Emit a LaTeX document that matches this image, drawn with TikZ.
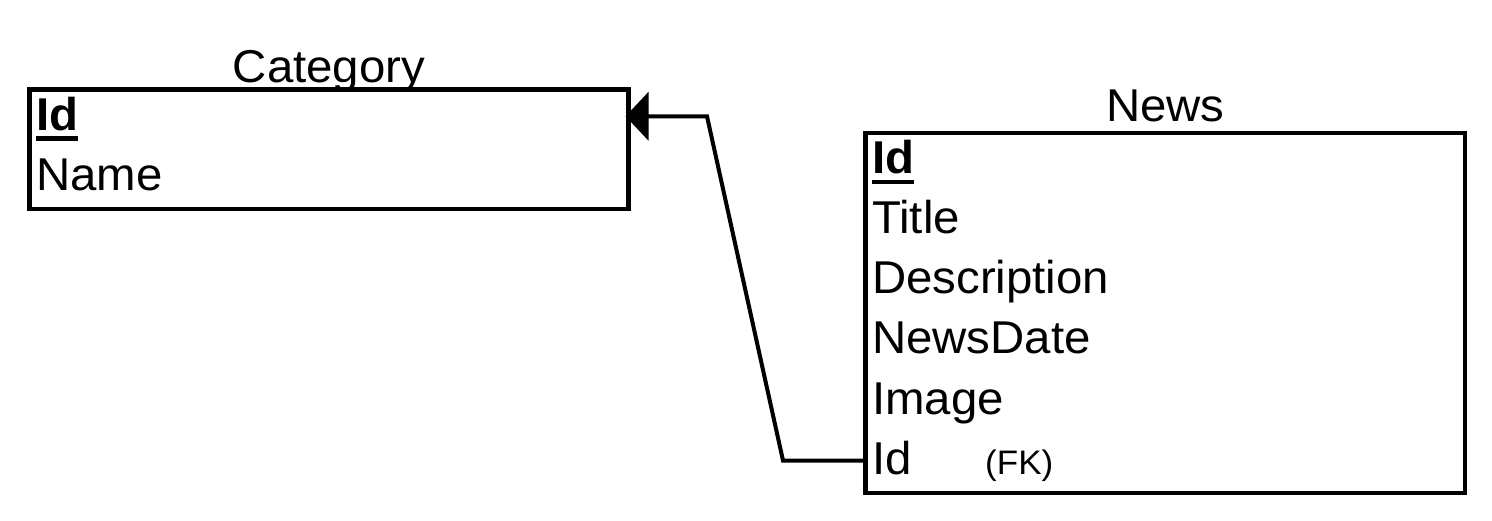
\documentclass[tikz,border=0pt]{standalone}
\usepackage{fontspec}
\setmainfont{Liberation Sans}[FakeStretch=1.03]
\usetikzlibrary{positioning,arrows.meta}
\tikzset{
entity/.style = {rectangle, draw, line width=4.5pt, inner sep=0pt, outer sep=0pt, minimum width=#1},
entity/.default = 599pt, % width of a table box
title/.style = {inner sep=0pt, font=\fontsize{46}{54}\selectfont},
field/.style = {inner sep=0pt, anchor=base west, font=\fontsize{46}{54}\selectfont},
note/.style = {inner sep=0pt, font=\fontsize{34}{40}\selectfont},
relation/.style = {line width=4pt, shorten >=-3pt, -{Triangle[length=23pt,width=48pt]}}
}
\newcommand{\keyfield}[1]{\setbox0=\hbox{\bfseries #1}\rlap{\rule[-10.5pt]{\wd0}{4.5pt}}\box0}

\begin{document}
\begin{tikzpicture}[x=1pt,y=1pt]
      \useasboundingbox (0,0) rectangle (1492,520);
      % Category table
      \node [entity, minimum height=119.5pt] (category) at (329,370.75) {};
      \node [title, above=7pt of category.north, anchor=base] {Category};
      \node [field] (category-id) at ([shift={(6.5pt,-41pt)}]category.north west) {\keyfield{Id}};
      \node [field, below=60pt of category-id.base west, anchor=base west] (category-name) {Name};
      % News table
      \node [entity=599.5pt, minimum height=360pt] (news) at (1165.25,207) {};
      \node [title, above=11pt of news.north, anchor=base] {News};
      \node [field] (news-id) at ([shift={(6.5pt,-41pt)}]news.north west) {\keyfield{Id}};
      \foreach \f [count=\i] in {Title,Description,NewsDate,Image,Id}
        \node [field] (news-\i) at ([yshift={-\i*60pt}]news-id.base west) {\f};
      \node [note, right=113pt of news-5.base west, anchor=base west] (news-fk) {(FK)};
      % foreign key
      \coordinate (bend-low) at (783,59.5);
      \coordinate (bend-high) at (707,403.7);
      \draw [relation] (news.west |- bend-low) -- (bend-low) -- (bend-high) -- (category.east |- bend-high);
\end{tikzpicture}
\end{document}
